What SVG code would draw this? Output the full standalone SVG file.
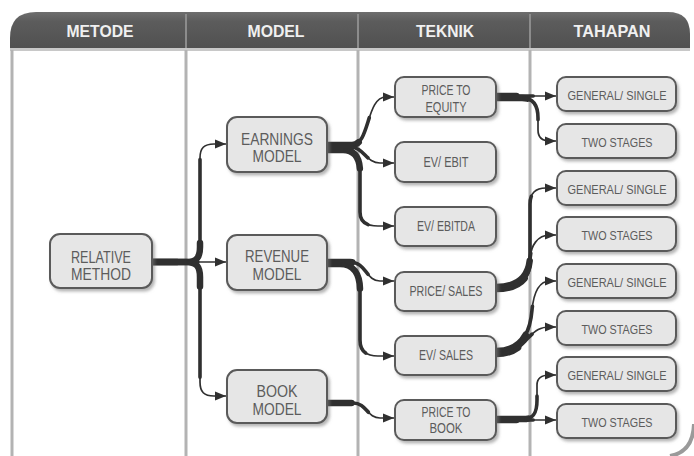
<svg xmlns="http://www.w3.org/2000/svg" xmlns:xlink="http://www.w3.org/1999/xlink" width="694" height="456" viewBox="0 0 694 456">
  <style>
    .hdr { font-family: "Liberation Sans", Arial, sans-serif; font-weight: bold; font-size: 17px; fill: #f0f0f0; text-anchor: middle; }
    .box { fill: #e6e6e6; stroke: #5a5a5a; stroke-width: 2; filter: url(#shadow); }
    .lbl { font-family: "Liberation Sans", Arial, sans-serif; fill: #5c5c5c; text-anchor: middle; }
    .big { font-size: 16px; }
    .mid { font-size: 14.5px; }
    .sml { font-size: 14px; }
    .stg { font-size: 13.5px; }
    .col { stroke: #b3b3b3; stroke-width: 3; fill: none; }
    .hcol { stroke: #8c8c8c; stroke-width: 2; }
    .wire { fill: none; stroke: #303030; stroke-linecap: round; stroke-linejoin: round; }
    .w1 { stroke-width: 1.7; marker-end: url(#arrow); }
    .w2 { stroke-width: 3.6; stroke-dasharray: 62 300; }
    .w3 { stroke-width: 6.5; stroke-dasharray: 34 300; }
    .long { stroke-dasharray: 80 300; }
  </style>
  <defs>
    <filter id="shadow" x="-10%" y="-10%" width="125%" height="135%">
      <feDropShadow dx="2" dy="2.5" stdDeviation="1.4" flood-color="#777" flood-opacity="0.55"/>
    </filter>
    <linearGradient id="hdrFill" x1="0" y1="0" x2="0" y2="1">
      <stop offset="0" stop-color="#6e6e6e"/>
      <stop offset="0.25" stop-color="#5c5c5c"/>
      <stop offset="1" stop-color="#505050"/>
    </linearGradient>
    <marker id="arrow" markerUnits="userSpaceOnUse" markerWidth="12" markerHeight="10" viewBox="0 0 12 10" refX="11" refY="5" orient="auto">
      <path d="M0,0.5 L11,5 L0,9.5 Z" fill="#303030"/>
    </marker>
    <!-- connector routes, normalised to length 100 for the tapering dashes -->
    <path id="c1" pathLength="100" d="M152,262 H186 C197,262 200,257 200,247 V158 C200,148 204,144 214,144 H226"/>
    <path id="c2" pathLength="100" d="M152,262 H226"/>
    <path id="c3" pathLength="100" d="M152,262 H186 C197,262 200,267 200,277 V382 C200,392 204,396 214,396 H226"/>
    <path id="c4" pathLength="100" d="M327,145 H352 C370,145 366,97 386,97 H394"/>
    <path id="c5" pathLength="100" d="M327,147 H350 C364,147 366,163 380,163 H394"/>
    <path id="c6" pathLength="100" d="M327,150 H343 C356,150 360,160 360,172 V212 C360,222 366,226 378,226 H394"/>
    <path id="c7" pathLength="100" d="M327,262 H350 C366,262 366,281 380,281 H394"/>
    <path id="c8" pathLength="100" d="M327,264 H340 C354,264 360,275 360,290 V340 C360,351 366,356 378,356 H394"/>
    <path id="c9" pathLength="100" d="M327,403 H353 C367,403 367,418 380,418 H394"/>
    <path id="c10" pathLength="100" d="M496,96 H556"/>
    <path id="c11" pathLength="100" d="M496,98 H522 C534,98 538,106 538,118 V130 C538,138 542,141 550,141 H556"/>
    <path id="c12" pathLength="100" d="M496,287 C520,287 530,275 530,255 V204 C530,193 536,188 546,188 H556"/>
    <path id="c13" pathLength="100" d="M496,289 C520,289 530,277 530,262 C530,245 538,235 550,235 H556"/>
    <path id="c14" pathLength="100" d="M496,351 C520,351 530,335 532,310 C534,290 540,281 550,281 H556"/>
    <path id="c15" pathLength="100" d="M496,354 C515,354 520,346 528,338 C536,330 540,327 550,327 H556"/>
    <path id="c16" pathLength="100" d="M496,420 H556"/>
    <path id="c17" pathLength="100" d="M496,419 H524 C534,419 537,412 537,400 V385 C537,378 542,375 550,375 H556"/>
  </defs>

  <rect width="694" height="456" fill="#ffffff"/>

  <!-- table frame -->
  <g id="frame">
    <path d="M10,50 V38 Q10,12 36,12 H668 Q690,12 690,34 V50 Z" fill="url(#hdrFill)"/>
    <line class="hcol" x1="186" y1="14" x2="186" y2="48"/>
    <line class="hcol" x1="358" y1="14" x2="358" y2="48"/>
    <line class="hcol" x1="530" y1="14" x2="530" y2="48"/>
    <rect x="10" y="48" width="680" height="3" fill="#c8c8c8"/>
    <line class="col" x1="12" y1="50" x2="12" y2="456"/>
    <line class="col" x1="186" y1="50" x2="186" y2="456"/>
    <line class="col" x1="358" y1="50" x2="358" y2="456"/>
    <line class="col" x1="530" y1="50" x2="530" y2="456"/>
    <path d="M694,424 Q693,452 670,456" fill="none" stroke="#9a9a9a" stroke-width="4"/>
    <text class="hdr" x="100" y="37" textLength="67" lengthAdjust="spacingAndGlyphs">METODE</text>
    <text class="hdr" x="276" y="37" textLength="57" lengthAdjust="spacingAndGlyphs">MODEL</text>
    <text class="hdr" x="445" y="37" textLength="58" lengthAdjust="spacingAndGlyphs">TEKNIK</text>
    <text class="hdr" x="612" y="37" textLength="77" lengthAdjust="spacingAndGlyphs">TAHAPAN</text>
  </g>

  <!-- connectors: three passes per route give the tapered strokes -->
  <g id="connectors" class="wire">
    <g class="w3">
      <use href="#c1"/><use href="#c2"/><use href="#c3"/><use href="#c4"/><use href="#c5"/><use href="#c6"/>
      <use href="#c7"/><use href="#c8"/><use href="#c9"/><use href="#c10"/><use href="#c11"/><use href="#c12"/>
      <use href="#c13"/><use href="#c14"/><use href="#c15"/><use href="#c16"/><use href="#c17"/>
    </g>
    <g class="w2">
      <use href="#c1" class="long"/><use href="#c2"/><use href="#c3" class="long"/><use href="#c4"/><use href="#c5"/><use href="#c6" class="long"/>
      <use href="#c7"/><use href="#c8" class="long"/><use href="#c9"/><use href="#c10"/><use href="#c11"/><use href="#c12" class="long"/>
      <use href="#c13"/><use href="#c14"/><use href="#c15"/><use href="#c16"/><use href="#c17"/>
    </g>
    <g class="w1">
      <use href="#c1"/><use href="#c2"/><use href="#c3"/><use href="#c4"/><use href="#c5"/><use href="#c6"/>
      <use href="#c7"/><use href="#c8"/><use href="#c9"/><use href="#c10"/><use href="#c11"/><use href="#c12"/>
      <use href="#c13"/><use href="#c14"/><use href="#c15"/><use href="#c16"/><use href="#c17"/>
    </g>
  </g>

  <!-- metode -->
  <g id="relative-method">
    <rect class="box" x="50" y="234" width="102" height="54" rx="10"/>
    <text class="lbl big" x="101" y="263" textLength="60" lengthAdjust="spacingAndGlyphs">RELATIVE</text>
    <text class="lbl big" x="101" y="280" textLength="60" lengthAdjust="spacingAndGlyphs">METHOD</text>
  </g>

  <!-- model -->
  <g id="earnings-model">
    <rect class="box" x="227" y="117" width="100" height="55" rx="10"/>
    <text class="lbl big" x="277" y="145" textLength="72" lengthAdjust="spacingAndGlyphs">EARNINGS</text>
    <text class="lbl big" x="277" y="162" textLength="49" lengthAdjust="spacingAndGlyphs">MODEL</text>
  </g>
  <g id="revenue-model">
    <rect class="box" x="227" y="235" width="100" height="55" rx="10"/>
    <text class="lbl big" x="277" y="262" textLength="64" lengthAdjust="spacingAndGlyphs">REVENUE</text>
    <text class="lbl big" x="277" y="280" textLength="49" lengthAdjust="spacingAndGlyphs">MODEL</text>
  </g>
  <g id="book-model">
    <rect class="box" x="227" y="370" width="100" height="53" rx="10"/>
    <text class="lbl big" x="277" y="397" textLength="41" lengthAdjust="spacingAndGlyphs">BOOK</text>
    <text class="lbl big" x="277" y="415" textLength="49" lengthAdjust="spacingAndGlyphs">MODEL</text>
  </g>

  <!-- teknik -->
  <g id="price-to-equity">
    <rect class="box" x="395" y="77" width="101" height="40" rx="9"/>
    <text class="lbl sml" x="446" y="95" textLength="49" lengthAdjust="spacingAndGlyphs">PRICE TO</text>
    <text class="lbl sml" x="446" y="112" textLength="41" lengthAdjust="spacingAndGlyphs">EQUITY</text>
  </g>
  <g id="ev-ebit">
    <rect class="box" x="395" y="142" width="101" height="40" rx="9"/>
    <text class="lbl mid" x="446" y="167" textLength="45" lengthAdjust="spacingAndGlyphs">EV/ EBIT</text>
  </g>
  <g id="ev-ebitda">
    <rect class="box" x="395" y="207" width="101" height="39" rx="9"/>
    <text class="lbl mid" x="446" y="231" textLength="58" lengthAdjust="spacingAndGlyphs">EV/ EBITDA</text>
  </g>
  <g id="price-sales">
    <rect class="box" x="395" y="272" width="101" height="39" rx="9"/>
    <text class="lbl mid" x="446" y="296" textLength="73" lengthAdjust="spacingAndGlyphs">PRICE/ SALES</text>
  </g>
  <g id="ev-sales">
    <rect class="box" x="395" y="336" width="101" height="39" rx="9"/>
    <text class="lbl mid" x="446" y="360" textLength="54" lengthAdjust="spacingAndGlyphs">EV/ SALES</text>
  </g>
  <g id="price-to-book">
    <rect class="box" x="395" y="400" width="101" height="40" rx="9"/>
    <text class="lbl sml" x="446" y="417" textLength="49" lengthAdjust="spacingAndGlyphs">PRICE TO</text>
    <text class="lbl sml" x="446" y="433" textLength="33" lengthAdjust="spacingAndGlyphs">BOOK</text>
  </g>

  <!-- tahapan -->
  <g id="general-single-1">
    <rect class="box" x="557" y="77" width="119" height="34" rx="9"/>
    <text class="lbl stg" x="617" y="99.5" textLength="99" lengthAdjust="spacingAndGlyphs">GENERAL/ SINGLE</text>
  </g>
  <g id="two-stages-1">
    <rect class="box" x="557" y="124" width="119" height="34" rx="9"/>
    <text class="lbl stg" x="617" y="146.5" textLength="71" lengthAdjust="spacingAndGlyphs">TWO STAGES</text>
  </g>
  <g id="general-single-2">
    <rect class="box" x="557" y="171" width="119" height="34" rx="9"/>
    <text class="lbl stg" x="617" y="193.5" textLength="99" lengthAdjust="spacingAndGlyphs">GENERAL/ SINGLE</text>
  </g>
  <g id="two-stages-2">
    <rect class="box" x="557" y="217" width="119" height="34" rx="9"/>
    <text class="lbl stg" x="617" y="239.5" textLength="71" lengthAdjust="spacingAndGlyphs">TWO STAGES</text>
  </g>
  <g id="general-single-3">
    <rect class="box" x="557" y="264" width="119" height="34" rx="9"/>
    <text class="lbl stg" x="617" y="286.5" textLength="99" lengthAdjust="spacingAndGlyphs">GENERAL/ SINGLE</text>
  </g>
  <g id="two-stages-3">
    <rect class="box" x="557" y="311" width="119" height="34" rx="9"/>
    <text class="lbl stg" x="617" y="333.5" textLength="71" lengthAdjust="spacingAndGlyphs">TWO STAGES</text>
  </g>
  <g id="general-single-4">
    <rect class="box" x="557" y="357" width="119" height="34" rx="9"/>
    <text class="lbl stg" x="617" y="379.5" textLength="99" lengthAdjust="spacingAndGlyphs">GENERAL/ SINGLE</text>
  </g>
  <g id="two-stages-4">
    <rect class="box" x="557" y="404" width="119" height="34" rx="9"/>
    <text class="lbl stg" x="617" y="426.5" textLength="71" lengthAdjust="spacingAndGlyphs">TWO STAGES</text>
  </g>
</svg>
